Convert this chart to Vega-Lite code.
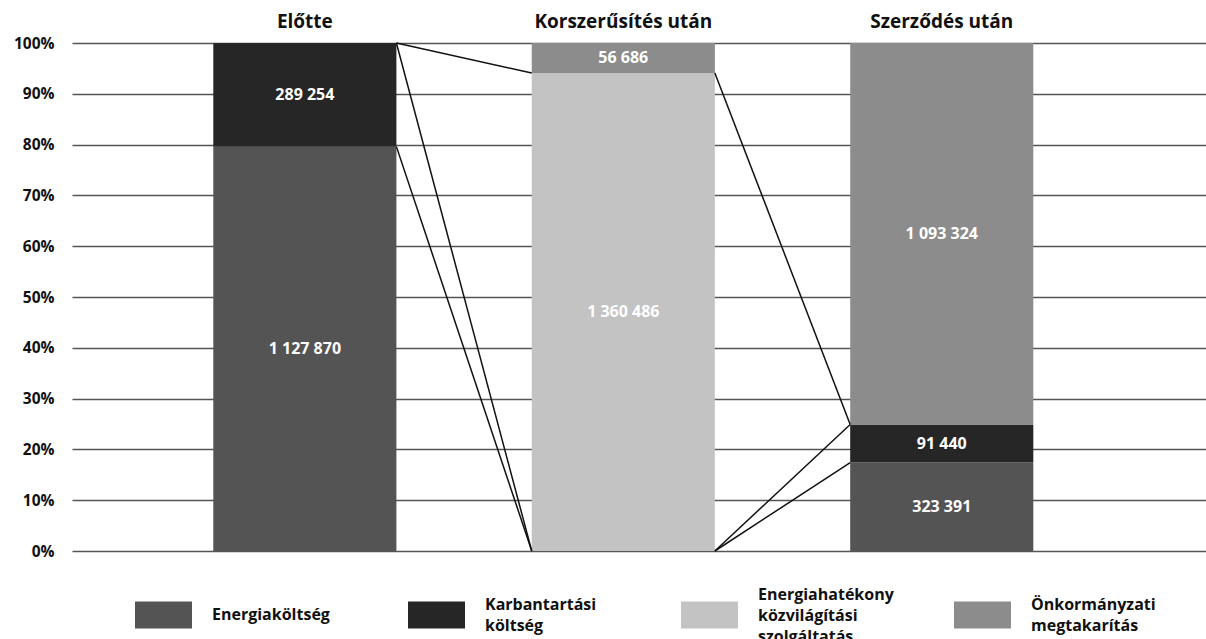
{
  "$schema": "https://vega.github.io/schema/vega-lite/v6.json",
  "width": 1134,
  "height": 508,
  "autosize": {"type": "none"},
  "padding": {"left": 72, "top": 43, "right": 0, "bottom": 88},
  "background": "white",
  "config": {
    "view": {"stroke": null},
    "font": "Open Sans",
    "style": {"guide-label": {"lineHeight": 21}},
    "locale": {"number": {"decimal": ",", "thousands": " ", "grouping": [3], "currency": ["", ""]}}
  },
  "datasets": {
    "bars": [
      {"group": "Előtte", "category": "Energiaköltség", "share": 79.6, "value": 1127870},
      {"group": "Előtte", "category": "Karbantartási költség", "share": 20.4, "value": 289254},
      {"group": "Korszerűsítés után", "category": "Energiahatékony közvilágítási szolgáltatás", "share": 94.1, "value": 1360486},
      {"group": "Korszerűsítés után", "category": "Önkormányzati megtakarítás", "share": 5.9, "value": 56686},
      {"group": "Szerződés után", "category": "Energiaköltség", "share": 17.4, "value": 323391},
      {"group": "Szerződés után", "category": "Karbantartási költség", "share": 7.5, "value": 91440},
      {"group": "Szerződés után", "category": "Önkormányzati megtakarítás", "share": 75.1, "value": 1093324}
    ],
    "links": [
      {"from": "Előtte", "to": "Korszerűsítés után", "y_from": 1.0, "y_to": 0.941},
      {"from": "Előtte", "to": "Korszerűsítés után", "y_from": 1.0, "y_to": 0.0},
      {"from": "Előtte", "to": "Korszerűsítés után", "y_from": 0.796, "y_to": 0.0},
      {"from": "Korszerűsítés után", "to": "Szerződés után", "y_from": 0.941, "y_to": 0.249},
      {"from": "Korszerűsítés után", "to": "Szerződés után", "y_from": 0.0, "y_to": 0.249},
      {"from": "Korszerűsítés után", "to": "Szerződés után", "y_from": 0.0, "y_to": 0.174}
    ]
  },
  "layer": [
    {
      "data": {"name": "bars"},
      "mark": {"type": "bar"},
      "encoding": {
        "x": {
          "field": "group", "type": "nominal",
          "scale": {"domain": ["Előtte", "Korszerűsítés után", "Szerződés után"], "paddingInner": 0.425, "paddingOuter": 0.493, "align": 0.45},
          "axis": {"orient": "top", "title": null, "labelAngle": 0, "domain": false, "ticks": false, "labelPadding": 12, "labelFontSize": 19, "labelFontWeight": "bold", "labelColor": "#111", "grid": false}
        },
        "y": {
          "field": "share", "type": "quantitative", "stack": "normalize",
          "scale": {"domain": [0, 1]},
          "axis": {"title": null, "values": [0, 0.1, 0.2, 0.3, 0.4, 0.5, 0.6, 0.7, 0.8, 0.9, 1], "format": ".0%", "domain": false, "ticks": false, "labelPadding": 18, "labelFontSize": 15.5, "labelFontWeight": "bold", "labelColor": "#111", "grid": true, "gridColor": "#555555", "gridWidth": 1.7}
        },
        "color": {
          "field": "category", "type": "nominal",
          "scale": {
            "domain": ["Energiaköltség", "Karbantartási költség", "Energiahatékony közvilágítási szolgáltatás", "Önkormányzati megtakarítás"],
            "range": ["#545454", "#262626", "#c3c3c3", "#8c8c8c"]
          },
          "legend": {
            "orient": "none", "legendX": 63, "legendY": 540,
            "direction": "horizontal", "columns": 4, "gridAlign": "all", "columnPadding": 60,
            "title": null, "clipHeight": 64,
            "symbolType": "M-1,-0.47H1V0.47H-1Z", "symbolSize": 3249, "symbolStrokeWidth": 0, "symbolOpacity": 1,
            "labelFontSize": 16, "labelFontWeight": "bold", "labelColor": "#111", "labelOffset": 20, "labelLimit": 260, "labelBaseline": "middle",
            "labelExpr": "datum.label == 'Karbantartási költség' ? ['Karbantartási', 'költség'] : datum.label == 'Energiahatékony közvilágítási szolgáltatás' ? ['Energiahatékony', 'közvilágítási', 'szolgáltatás'] : datum.label == 'Önkormányzati megtakarítás' ? ['Önkormányzati', 'megtakarítás'] : datum.label",
            "encode": {
              "labels": {
                "update": {
                  "dy": {"signal": "datum.value == 'Energiahatékony közvilágítási szolgáltatás' ? -20 : datum.value == 'Energiaköltség' ? 0 : -10"}
                }
              }
            }
          }
        },
        "order": {"field": "category", "sort": "ascending"}
      }
    },
    {
      "data": {"name": "bars"},
      "mark": {"type": "text", "color": "white", "fontWeight": "bold", "fontSize": 16, "baseline": "middle"},
      "encoding": {
        "x": {"field": "group", "type": "nominal"},
        "y": {"field": "share", "type": "quantitative", "stack": "normalize", "bandPosition": 0.5},
        "text": {"field": "value", "type": "quantitative", "format": ",.0f"},
        "order": {"field": "category", "sort": "ascending"}
      }
    },
    {
      "data": {"name": "links"},
      "mark": {"type": "rule", "color": "#111", "strokeWidth": 1.5},
      "encoding": {
        "x": {"field": "from", "type": "nominal", "bandPosition": 1},
        "x2": {"field": "to", "type": "nominal", "bandPosition": 0},
        "y": {"field": "y_from", "type": "quantitative"},
        "y2": {"field": "y_to"}
      }
    }
  ]
}
